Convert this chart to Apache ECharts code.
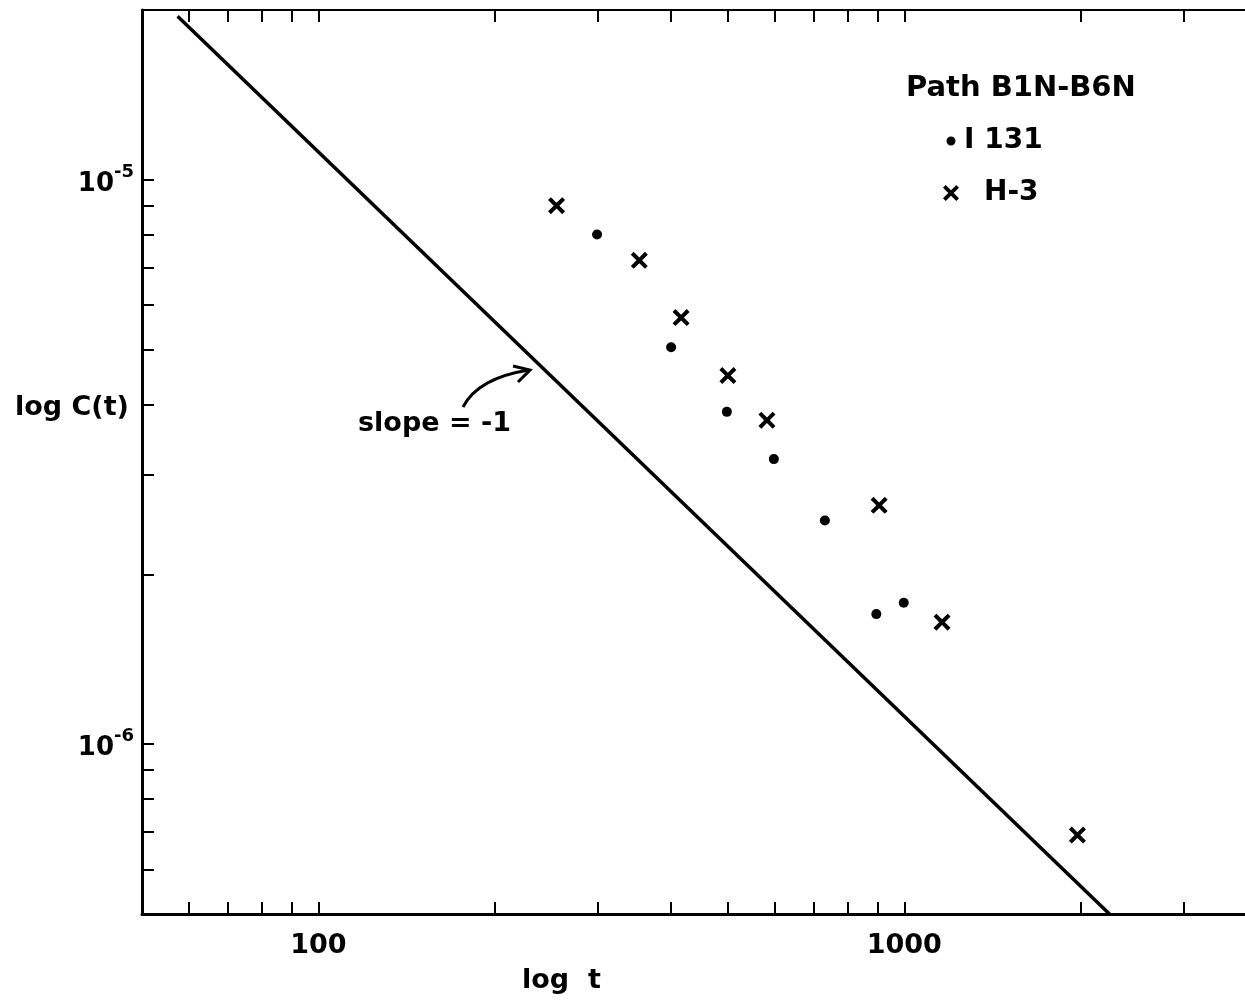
<!DOCTYPE html>
<html><head><meta charset="utf-8">
<script src="https://cdn.jsdelivr.net/npm/echarts@6/dist/echarts.min.js"></script>
<style>html,body{margin:0;padding:0;background:#fff}#c{width:1245px;height:1004px}</style>
</head><body><div id="c"></div>
<script>
const xTickValues = [60,70,80,90,100,200,300,400,500,600,700,800,900,1000,2000,3000];
const xLabelValues = [100,1000];
const yTickValues = [6e-7,7e-7,8e-7,9e-7,1e-6,2e-6,3e-6,4e-6,5e-6,6e-6,7e-6,8e-6,9e-6,1e-5];
const yLabelValues = [1e-6,1e-5];
const i131T = [299,400,498,599,732,896,998];
const i131C = [8.0e-6,5.05e-6,3.88e-6,3.2e-6,2.49e-6,1.70e-6,1.78e-6];
const h3T = [255,353,416,500,583,906,1160,1975];
const h3C = [9.0e-6,7.2e-6,5.7e-6,4.5e-6,3.75e-6,2.65e-6,1.645e-6,6.9e-7];
const slopeLineT = [57.5,2240];
const slopeLineC = [1.95e-5,5.0e-7];

const FONT = '"DejaVu Sans", sans-serif';
const X_ICON = 'path://M0,2L2,0L6,4L10,0L12,2L8,6L12,10L10,12L6,8L2,12L0,10L4,6Z';
const DOT_ICON = 'path://M0,0M16,16M8,3.5A4.5,4.5,0,1,1,7.99,3.5Z';

const zip = (a,b) => a.map((v,i)=>[v,b[i]]);

const chart = echarts.init(document.getElementById('c'), null, {renderer:'canvas'});

const xBase = {
  type:'log', logBase:10, min:50, max:4000,
  splitLine:{show:false}, minorTick:{show:false}, minorSplitLine:{show:false},
  axisLine:{show:true, onZero:false, lineStyle:{color:'#000', width:3}},
  axisTick:{show:true, inside:true, length:12, customValues:xTickValues, lineStyle:{color:'#000', width:2}}
};
const yBase = {
  type:'log', logBase:10, min:5e-7, max:2e-5,
  splitLine:{show:false}, minorTick:{show:false}, minorSplitLine:{show:false},
  axisLine:{show:true, onZero:false, lineStyle:{color:'#000', width:3}},
  axisTick:{show:true, inside:true, length:12, customValues:yTickValues, lineStyle:{color:'#000', width:2}}
};

const option = {
  animation:false,
  backgroundColor:'#fff',
  grid:{left:142, width:1115, top:10, bottom:90, containLabel:false, outerBoundsMode:'none'},
  title:{text:'Path B1N-B6N', left:906, top:74, padding:0,
    textStyle:{fontFamily:FONT, fontWeight:'bold', fontSize:29, color:'#000'}},
  legend:{
    orient:'vertical', left:943, top:127, itemGap:24, itemWidth:16, itemHeight:16, padding:0,
    textStyle:{fontFamily:FONT, fontWeight:'bold', fontSize:28, color:'#000'},
    data:[
      {name:'I 131', icon:DOT_ICON},
      {name:'H-3', icon:X_ICON, textStyle:{padding:[0,0,0,20]}}
    ]
  },
  xAxis:[
    Object.assign({}, xBase, {position:'bottom',
      axisLabel:{show:true, customValues:xLabelValues, margin:18,
        formatter: v => String(Math.round(v)),
        fontFamily:FONT, fontWeight:'bold', fontSize:27, color:'#000'}}),
    Object.assign({}, xBase, {position:'top', axisLabel:{show:false},
      axisLine:{show:true, onZero:false, lineStyle:{color:'#000', width:2}}})
  ],
  yAxis:[
    Object.assign({}, yBase, {position:'left',
      axisLabel:{show:true, customValues:yLabelValues, margin:8,
        formatter: v => '{b|10}{s|' + Math.round(Math.log10(v)) + '}',
        rich:{
          b:{fontFamily:FONT, fontWeight:'bold', fontSize:26, color:'#000', lineHeight:34, verticalAlign:'bottom'},
          s:{fontFamily:FONT, fontWeight:'bold', fontSize:18, color:'#000', verticalAlign:'top'}
        }}}),
    Object.assign({}, yBase, {position:'right', axisLabel:{show:false},
      axisLine:{show:true, onZero:false, lineStyle:{color:'#000', width:2}}})
  ],
  series:[
    {name:'slope', type:'line', xAxisIndex:0, yAxisIndex:0, data:zip(slopeLineT, slopeLineC),
      symbol:'none', lineStyle:{color:'#000', width:3.5}, silent:true, z:2},
    {name:'I 131', type:'scatter', xAxisIndex:0, yAxisIndex:0, data:zip(i131T, i131C),
      symbol:'circle', symbolSize:10, itemStyle:{color:'#000', opacity:1}, z:3},
    {name:'H-3', type:'scatter', xAxisIndex:0, yAxisIndex:0, data:zip(h3T, h3C),
      symbol:X_ICON, symbolSize:17, itemStyle:{color:'#000', opacity:1}, z:3}
  ],
  graphic:[
    {type:'text', left:15, top:394, style:{text:'log C(t)', font:'bold 27px ' + FONT, fill:'#000'}},
    {type:'text', left:522, top:967, style:{text:'log  t', font:'bold 27px ' + FONT, fill:'#000'}},
    {type:'text', left:358, top:410, style:{text:'slope = -1', font:'bold 27px ' + FONT, fill:'#000'}},
    {type:'bezierCurve', shape:{x1:463, y1:407, cpx1:478, cpy1:378, x2:529, y2:370},
      style:{stroke:'#000', lineWidth:3, fill:null}},
    {type:'polyline', shape:{points:[[513,366],[530,370],[518,382]]},
      style:{stroke:'#000', lineWidth:3, fill:null}}
  ]
};
chart.setOption(option);
</script>
</body></html>
